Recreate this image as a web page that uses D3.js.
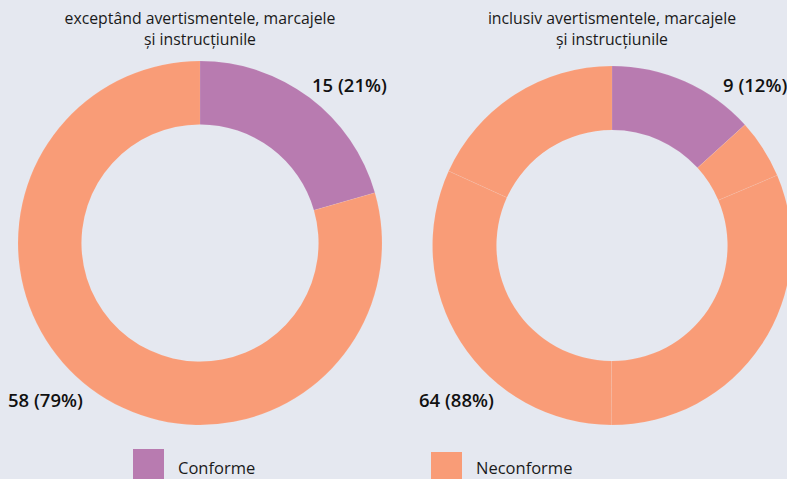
<!DOCTYPE html>
<html>
<head>
<meta charset="utf-8">
<script src="https://cdn.jsdelivr.net/npm/d3@7"></script>
<style>
  body { margin: 0; background: #e5e8f0; }
  svg { display: block; }
</style>
</head>
<body>
<div id="chart"></div>
<script>
// Datos
const categorias = ["Conforme", "Neconforme"];
const colores = ["#b87bb0", "#f99c77"];
const titulos = [
  ["exceptând avertismentele, marcajele", "și instrucțiunile"],
  ["inclusiv avertismentele, marcajele", "și instrucțiunile"]
];
// Porciones de cada anillo (categoría, valor)
const porcionesIzq = [
  { cat: 0, valor: 15 },
  { cat: 1, valor: 58 }
];
const porcionesDer = [
  { cat: 0, valor: 9.7 },
  { cat: 1, valor: 3.9 },
  { cat: 1, valor: 23 },
  { cat: 1, valor: 23.2 },
  { cat: 1, valor: 13.3 }
];
const etiquetasIzq = ["15 (21%)", "58 (79%)"];
const etiquetasDer = ["9 (12%)", "64 (88%)"];

const width = 787;
const height = 479;

const svg = d3.select("#chart")
  .append("svg")
  .attr("width", width)
  .attr("height", height);

svg.append("rect").attr("width", width).attr("height", height).attr("fill", "#e5e8f0");

const fuente = "'Open Sans', 'DejaVu Sans', sans-serif";

const pie = d3.pie().value(d => d.valor).sort(null);

// Dibuja un anillo con su título y etiquetas
const dibujarAnillo = (datos, cx, cy, rExt, rInt, titulo, etiquetas, posEtiquetas) => {
  const g = svg.append("g").attr("transform", `translate(${cx},${cy})`);
  const arco = d3.arc().innerRadius(rInt).outerRadius(rExt);

  g.selectAll("path")
    .data(pie(datos))
    .join("path")
    .attr("d", arco)
    .attr("fill", d => colores[d.data.cat])
    .attr("stroke", "rgba(255,255,255,0.12)")
    .attr("stroke-width", 0.6);

  // Título en dos líneas (textos separados)
  titulo.forEach((linea, i) => {
    svg.append("text")
      .attr("x", cx)
      .attr("y", 24 + i * 21)
      .attr("text-anchor", "middle")
      .style("font-family", fuente)
      .style("font-size", "15.8px")
      .attr("fill", "#1a1a1a")
      .text(linea);
  });

  etiquetas.forEach((t, i) => {
    svg.append("text")
      .attr("x", posEtiquetas[i][0])
      .attr("y", posEtiquetas[i][1])
      .style("font-family", fuente)
      .style("font-size", "18.5px")
      .style("font-weight", "600")
      .attr("fill", "#111")
      .text(t);
  });
};

dibujarAnillo(porcionesIzq, 200, 243, 182, 118.5, titulos[0], etiquetasIzq, [[312, 92], [8, 407]]);
dibujarAnillo(porcionesDer, 612, 245.5, 179.5, 115.5, titulos[1], etiquetasDer, [[723, 92], [419, 407]]);

// Leyenda
const leyenda = svg.append("g");
const posLeyenda = [[133, 449], [431, 452]];
categorias.forEach((c, i) => {
  leyenda.append("rect")
    .attr("x", posLeyenda[i][0])
    .attr("y", posLeyenda[i][1])
    .attr("width", 31)
    .attr("height", 31)
    .attr("fill", colores[i]);
  leyenda.append("text")
    .attr("x", posLeyenda[i][0] + 45)
    .attr("y", 474)
    .style("font-family", fuente)
    .style("font-size", "16.5px")
    .attr("fill", "#1a1a1a")
    .text(c);
});
</script>
</body>
</html>
